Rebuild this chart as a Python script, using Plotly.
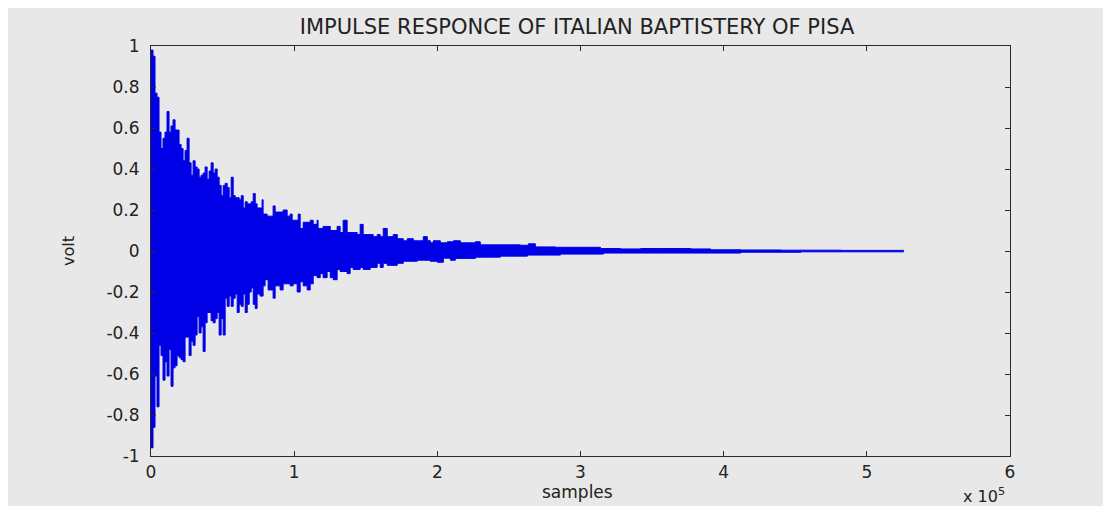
import plotly.graph_objects as go

# ---------------- data ----------------
# upper envelope of the impulse response (sample index, volt)
upper_x = [0, 1400, 2800, 4200, 5600, 7000, 8400, 9800, 11200, 12600, 14000, 15400,
           16800, 18200, 19600, 21000, 22400, 23800, 25200, 26600, 28000, 29400, 30800,
           32200, 33600, 35000, 36400, 37800, 39200, 40600, 42000, 43400, 44800, 46200,
           47600, 49000, 50400, 51800, 53200, 54600, 56000, 57400, 58800, 60200, 61600,
           63000, 64400, 65800, 67200, 68600, 70000, 71400, 72800,
           74100, 77600, 78300, 81100, 83900, 85300, 86700, 89500, 92300, 95100, 97200,
           98600, 100700, 102800, 104200, 106300, 109100, 111200, 113300, 116000, 116700,
           120200, 123000, 125200, 127900, 130000, 132100, 134200, 137000, 139100, 141900,
           144000, 146100, 148200, 151000, 153100, 155200, 158000, 160100, 162200, 165000,
           167100, 169200, 172000, 174100, 176200, 179000, 181100, 183200, 186000, 188100,
           190200, 193000, 195100, 197200, 200000, 202100, 204200, 207000,
           211200, 216100, 223100, 226600, 230000, 237000, 244000, 251000, 258000, 263600,
           268500, 275500, 282500, 293000, 303500, 314000, 328000, 342000, 356000, 370000,
           377000, 391000, 412000, 440000, 482000, 525800]
upper_v = [0.98, 0.95, 0.77, 0.75, 0.58, 0.50, 0.55, 0.58, 0.68, 0.58, 0.61, 0.64,
           0.59, 0.59, 0.52, 0.50, 0.44, 0.49, 0.55, 0.43, 0.37, 0.44, 0.41,
           0.40, 0.36, 0.37, 0.38, 0.41, 0.35, 0.39, 0.43, 0.38, 0.40, 0.36,
           0.32, 0.27, 0.32, 0.33, 0.31, 0.26, 0.36, 0.27, 0.26, 0.26, 0.25,
           0.27, 0.21, 0.24, 0.23, 0.23, 0.24, 0.28, 0.23,
           0.21, 0.25, 0.18, 0.17, 0.17, 0.22, 0.19, 0.19, 0.20, 0.17, 0.18,
           0.15, 0.15, 0.18, 0.11, 0.14, 0.14, 0.15, 0.13, 0.15, 0.11,
           0.12, 0.12, 0.10, 0.10, 0.12, 0.09, 0.15, 0.09, 0.09, 0.09,
           0.08, 0.13, 0.08, 0.08, 0.08, 0.07, 0.08, 0.07, 0.11, 0.07,
           0.07, 0.08, 0.06, 0.06, 0.05, 0.06, 0.06, 0.05, 0.05, 0.05,
           0.07, 0.05, 0.04, 0.05, 0.05, 0.04, 0.04, 0.045,
           0.05, 0.04, 0.04, 0.045, 0.03, 0.03, 0.03, 0.03, 0.028, 0.035,
           0.02, 0.02, 0.018, 0.018, 0.018, 0.012, 0.01, 0.012, 0.012, 0.012,
           0.01, 0.006, 0.005, 0.004, 0.003, 0.003]

# lower envelope of the impulse response (sample index, volt)
lower_x = [0, 1400, 2800, 4200, 5600, 7000, 8400, 9800, 11200, 12600, 14000, 15400,
           16800, 18200, 19600, 21000, 22400, 23800, 25200, 26600, 28000, 29400, 30800,
           32200, 33600, 35000, 36400, 37800, 39200, 40600, 42000, 43400, 44800, 46200,
           47600, 49000, 50400, 51800, 53200, 54600, 56000, 57400, 58800, 60200, 61600,
           63000, 64400, 65800, 67200, 68600, 70000, 71400, 72800,
           74100, 76200, 78300, 79700, 81800, 85300, 86700, 90200, 92300, 95100, 97200,
           99300, 102100, 104200, 106300, 109100, 111200, 113300, 116000, 118200, 120200,
           123000, 125200, 127300, 130000, 132100, 134200, 137000, 139100, 141200, 144000,
           146100, 148200, 151000, 153100, 155200, 158000, 160100, 162200, 165000, 167100,
           172000, 176200, 181100, 186000, 190200, 195100, 200000, 204200, 209100,
           212600, 219600, 226600, 237000, 244000, 254500, 263000, 275500, 286000, 300000,
           316000, 349000, 384000, 412000, 454000, 525800]
lower_v = [-0.96, -0.86, -0.61, -0.76, -0.46, -0.51, -0.63, -0.54, -0.61, -0.48, -0.66, -0.57,
           -0.56, -0.51, -0.52, -0.53, -0.54, -0.42, -0.42, -0.51, -0.44, -0.46, -0.41,
           -0.32, -0.40, -0.37, -0.49, -0.35, -0.30, -0.30, -0.34, -0.35, -0.33, -0.30,
           -0.41, -0.33, -0.41, -0.23, -0.27, -0.22, -0.27, -0.23, -0.21, -0.30, -0.26,
           -0.27, -0.21, -0.30, -0.26, -0.20, -0.18, -0.26, -0.28,
           -0.21, -0.22, -0.17, -0.14, -0.19, -0.23, -0.17, -0.19, -0.16, -0.16, -0.17,
           -0.16, -0.20, -0.15, -0.17, -0.19, -0.16, -0.12, -0.13, -0.11, -0.13,
           -0.10, -0.13, -0.14, -0.09, -0.10, -0.10, -0.11, -0.08, -0.09, -0.09,
           -0.08, -0.09, -0.09, -0.08, -0.08, -0.06, -0.08, -0.06, -0.07, -0.07,
           -0.06, -0.05, -0.05, -0.045, -0.045, -0.05, -0.055, -0.035, -0.045,
           -0.036, -0.036, -0.03, -0.03, -0.025, -0.025, -0.02, -0.02, -0.015, -0.015,
           -0.01, -0.01, -0.01, -0.006, -0.004, -0.003]

x_tick_vals = [0, 100000, 200000, 300000, 400000, 500000, 600000]
x_tick_text = ["0", "1", "2", "3", "4", "5", "6"]
y_tick_vals = [-1, -0.8, -0.6, -0.4, -0.2, 0, 0.2, 0.4, 0.6, 0.8, 1]
y_tick_text = ["-1", "-0.8", "-0.6", "-0.4", "-0.2", "0", "0.2", "0.4", "0.6", "0.8", "1"]

title_text = "IMPULSE RESPONCE OF ITALIAN BAPTISTERY OF PISA"
x_label = "samples"
y_label = "volt"

# ---------------- styling ----------------
BLUE = "#0000e6"
BG = "#e8e8e8"
INK = "#222222"
FONT = "DejaVu Sans"

OFF = 8                      # page body margin: figure starts at page (8, 8)
W, H = 1111 - OFF, 506 - OFF
L, T = 151 - OFF, 46 - OFF
R = W - (1010 - OFF)
B = H - (456 - OFF)
pw, ph = W - L - R, H - T - B


def px_x(p):
    """page pixel x -> paper coordinate"""
    return (p - OFF - L) / pw


def px_y(p):
    """page pixel y -> paper coordinate"""
    return (H - B - (p - OFF)) / ph


fig = go.Figure()
fig.add_trace(go.Scatter(x=lower_x, y=lower_v, mode="lines",
                         line=dict(color=BLUE, width=1, shape="hv"),
                         hoverinfo="skip", showlegend=False))
fig.add_trace(go.Scatter(x=upper_x, y=upper_v, mode="lines",
                         line=dict(color=BLUE, width=1, shape="hv"),
                         fill="tonexty", fillcolor=BLUE,
                         hoverinfo="skip", showlegend=False))

axis_common = dict(showline=True, linecolor="#2a2a2a", linewidth=1, mirror="ticks",
                   ticks="inside", ticklen=5, tickcolor="#2a2a2a", showgrid=False,
                   zeroline=False, tickfont=dict(family=FONT, size=17, color=INK))

fig.update_xaxes(range=[0, 600000], tickvals=x_tick_vals, ticktext=x_tick_text,
                 ticklabelstandoff=1, **axis_common)
fig.update_yaxes(range=[-1, 1], tickvals=y_tick_vals, ticktext=y_tick_text,
                 ticklabelstandoff=7, **axis_common)

fig.update_layout(
    width=W, height=H,
    margin=dict(l=L, r=R, t=T, b=B, autoexpand=False),
    paper_bgcolor=BG, plot_bgcolor=BG,
    title=dict(text=title_text, x=px_x(577), xanchor="center", xref="paper",
               y=1 - (27 - OFF) / H, yanchor="middle", yref="container",
               font=dict(family=FONT, size=21, color=INK)),
    annotations=[
        dict(text=x_label, xref="paper", yref="paper", x=px_x(577), y=px_y(492),
             xanchor="center", yanchor="middle", showarrow=False,
             font=dict(family=FONT, size=17, color=INK)),
        dict(text=y_label, xref="paper", yref="paper", x=px_x(68), y=px_y(251),
             xanchor="center", yanchor="middle", textangle=-90, showarrow=False,
             font=dict(family=FONT, size=16, color=INK)),
        dict(text="x 10<sup>5</sup>", xref="paper", yref="paper", x=px_x(1007), y=px_y(495),
             xanchor="right", yanchor="middle", showarrow=False,
             font=dict(family=FONT, size=16, color=INK)),
    ],
)

fig.write_html("out.html")
